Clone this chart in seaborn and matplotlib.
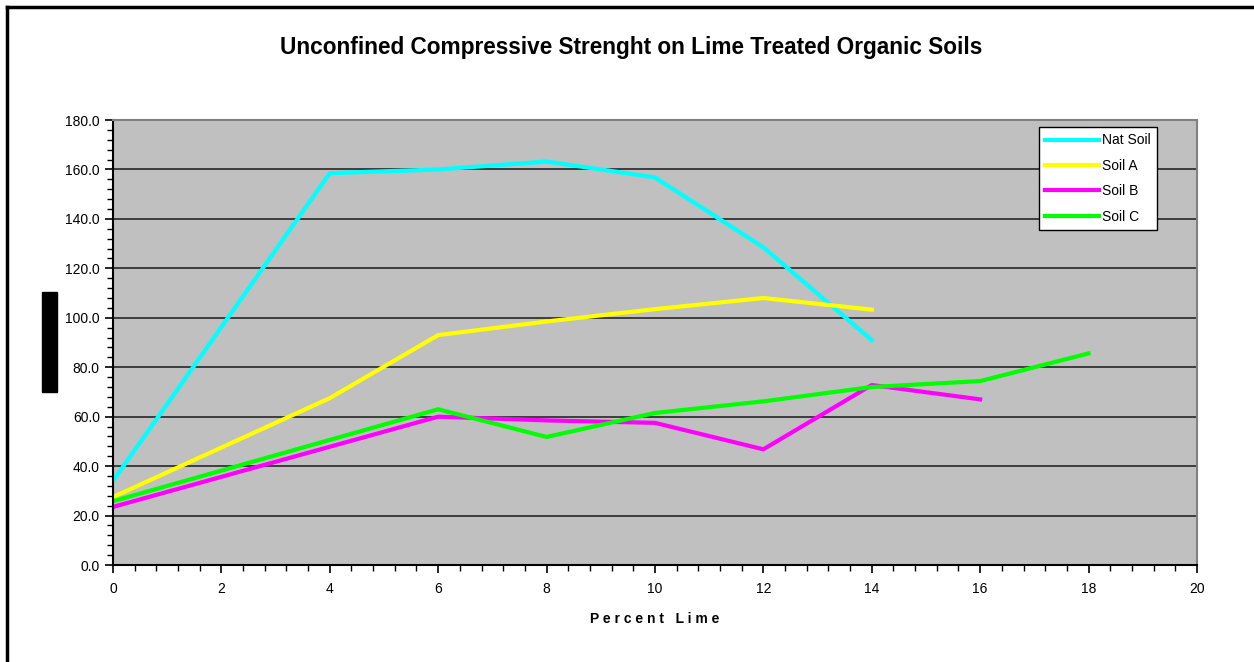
import numpy as np
import matplotlib.pyplot as plt
import seaborn as sns
import pandas as pd
from matplotlib.lines import Line2D
from matplotlib.patches import Rectangle
from matplotlib.ticker import MultipleLocator

# Datos
lime_nat = [0, 4, 6, 8, 10, 12, 14]
nat_soil = [34, 158.5, 160, 163.2, 156.8, 128.5, 91]
lime_a = [0, 4, 6, 8, 10, 12, 14]
soil_a = [27.5, 67.5, 93, 98.5, 103.5, 108, 103.3]
lime_b = [0, 6, 8, 10, 12, 14, 16]
soil_b = [23.5, 60, 58.5, 57.5, 46.8, 72.8, 67]
lime_c = [0, 6, 8, 10, 12, 14, 16, 18]
soil_c = [25.8, 63, 51.8, 61.5, 66.2, 72, 74.4, 85.6]

series = ["Nat Soil", "Soil A", "Soil B", "Soil C"]
colores = ["#00FFFF", "#FFFF00", "#FF00FF", "#00FF00"]

df = pd.concat([
    pd.DataFrame({"Lime": lime_nat, "UCS": nat_soil, "Serie": "Nat Soil"}),
    pd.DataFrame({"Lime": lime_a, "UCS": soil_a, "Serie": "Soil A"}),
    pd.DataFrame({"Lime": lime_b, "UCS": soil_b, "Serie": "Soil B"}),
    pd.DataFrame({"Lime": lime_c, "UCS": soil_c, "Serie": "Soil C"}),
])

plt.rcParams["font.family"] = ["Liberation Sans", "DejaVu Sans"]

fig = plt.figure(figsize=(12.54, 6.62), dpi=100)
ax = fig.add_axes([0.0901, 0.1465, 0.8644, 0.6722])
ax.set_facecolor("#C0C0C0")

sns.lineplot(data=df, x="Lime", y="UCS", hue="Serie", hue_order=series,
             palette=colores, linewidth=3, sort=False, estimator=None,
             legend=False, ax=ax)

ax.set_xlim(0, 20)
ax.set_ylim(0, 180)
ax.xaxis.set_major_locator(MultipleLocator(2))
ax.xaxis.set_minor_locator(MultipleLocator(0.4))
ax.yaxis.set_major_locator(MultipleLocator(20))
ax.yaxis.set_minor_locator(MultipleLocator(4))
ax.set_yticks(np.arange(0, 181, 20))
ax.set_yticklabels([f"{v:.1f}" for v in np.arange(0, 181, 20)])
ax.tick_params(axis="both", which="major", length=6, width=1.2,
               labelsize=10, direction="out", color="black")
ax.tick_params(axis="both", which="minor", length=4, width=1, direction="out")
ax.tick_params(axis="x", pad=6)
ax.grid(axis="y", which="major", color="#333333", linewidth=1.3)
ax.set_axisbelow(True)

for s in ["top", "right"]:
    ax.spines[s].set_color("#808080")
    ax.spines[s].set_linewidth(1.5)
for s in ["left", "bottom"]:
    ax.spines[s].set_color("black")
    ax.spines[s].set_linewidth(1.5)

ax.set_xlabel("P e r c e n t   L i m e", fontsize=10, fontweight="bold", labelpad=12)
ax.set_ylabel("")

handles = [Line2D([0], [0], color=c, lw=3) for c in colores]
leg = ax.legend(handles, series, loc="upper left", bbox_to_anchor=(0.854, 0.984),
                borderaxespad=0, frameon=True, fancybox=False, fontsize=10,
                handlelength=3.9, handletextpad=0.2, labelspacing=0.82,
                borderpad=0.45)
leg.get_frame().set_edgecolor("black")
leg.get_frame().set_linewidth(1.0)
leg.get_frame().set_facecolor("white")
leg.get_frame().set_alpha(1)

fig.text(0.503, 0.928, "Unconfined Compressive Strenght on Lime Treated Organic Soils",
         ha="center", va="center", fontsize=16.3, fontweight="bold")

# caja negra del titulo del eje y
fig.add_artist(Rectangle((42 / 1254, 1 - 392 / 662), 15 / 1254, 100 / 662,
                         transform=fig.transFigure, color="black"))

# marco exterior
fig.add_artist(Line2D([7 / 1254, 7 / 1254], [0, 1 - 7 / 662],
                      transform=fig.transFigure, color="black", lw=2.5))
fig.add_artist(Line2D([7 / 1254, 1], [1 - 7 / 662, 1 - 7 / 662],
                      transform=fig.transFigure, color="black", lw=2.5))

fig.savefig("out.png", dpi=100)
